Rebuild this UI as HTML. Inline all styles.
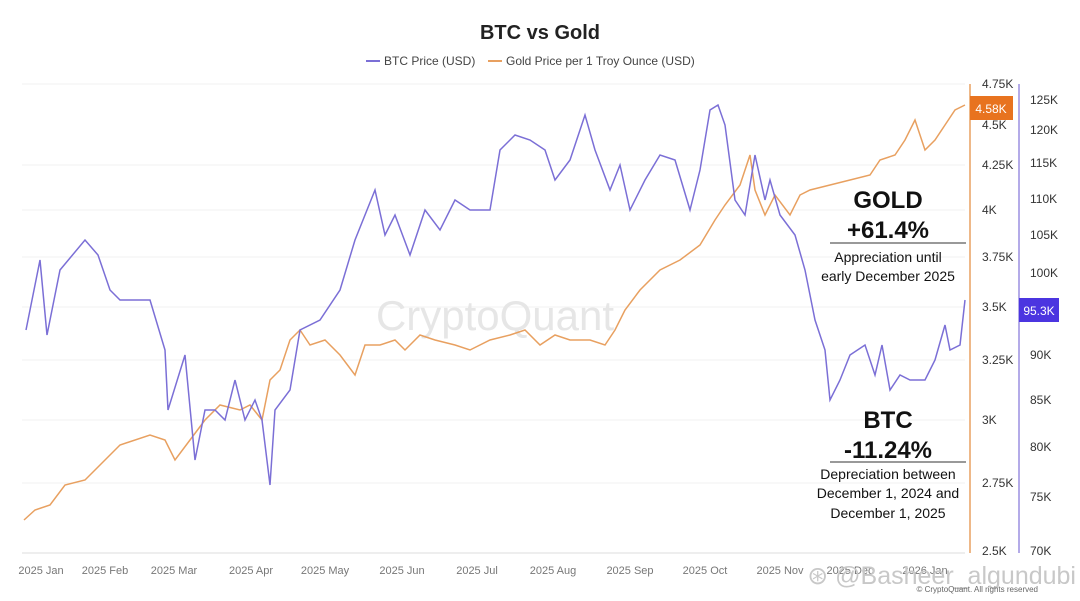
<!DOCTYPE html>
<html><head><meta charset="utf-8"><style>
body{margin:0;background:#fff;}
svg{display:block;font-family:"Liberation Sans",sans-serif;}
</style></head><body>
<svg width="1080" height="601" viewBox="0 0 1080 601">
<rect width="1080" height="601" fill="#fff"/>
<text x="540" y="39" text-anchor="middle" font-size="20" font-weight="bold" fill="#222">BTC vs Gold</text>
<line x1="366" y1="61" x2="380" y2="61" stroke="#7b6fd6" stroke-width="2"/>
<text x="384" y="65" font-size="12" fill="#444">BTC Price (USD)</text>
<line x1="488" y1="61" x2="502" y2="61" stroke="#e8a060" stroke-width="2"/>
<text x="506" y="65" font-size="12" fill="#444">Gold Price per 1 Troy Ounce (USD)</text>
<g stroke="#f2f2f2" stroke-width="1">
<line x1="22" y1="84" x2="965" y2="84"/><line x1="22" y1="165" x2="965" y2="165"/><line x1="22" y1="210" x2="965" y2="210"/><line x1="22" y1="257" x2="965" y2="257"/><line x1="22" y1="307" x2="965" y2="307"/><line x1="22" y1="360" x2="965" y2="360"/><line x1="22" y1="420" x2="965" y2="420"/><line x1="22" y1="483" x2="965" y2="483"/>
</g>
<line x1="22" y1="553" x2="965" y2="553" stroke="#ddd"/>
<text x="495" y="330" text-anchor="middle" font-size="42" fill="#e6e6e6">CryptoQuant</text>
<polyline fill="none" stroke="#e8a060" stroke-width="1.5" points="24,520 35,510 50,505 65,485 85,480 100,465 120,445 150,435 165,440 175,460 190,440 205,420 220,405 240,410 250,405 262,420 270,380 280,370 290,340 300,330 310,345 325,340 340,355 355,375 365,345 380,345 395,340 405,350 420,335 435,340 455,345 470,350 490,340 510,335 525,330 540,345 555,335 570,340 590,340 605,345 615,330 625,310 640,290 660,270 680,260 700,245 715,220 725,205 740,185 750,155 755,190 765,215 775,195 790,215 800,195 810,190 830,185 850,180 870,175 880,160 895,155 905,140 915,120 925,150 935,140 945,125 955,110 965,105"/>
<polyline fill="none" stroke="#7b6fd6" stroke-width="1.5" points="26,330 40,260 47,335 60,270 85,240 98,255 110,290 120,300 150,300 165,350 168,410 185,355 195,460 205,410 215,410 225,420 235,380 245,420 255,400 262,420 270,485 275,410 290,390 300,330 320,320 340,290 355,240 375,190 385,235 395,215 410,255 425,210 440,230 455,200 470,210 490,210 500,150 515,135 530,140 545,150 555,180 570,160 585,115 595,150 610,190 620,165 630,210 645,180 660,155 675,160 690,210 700,170 710,110 718,105 725,125 735,200 745,215 755,155 765,200 770,180 780,215 795,235 805,270 815,320 825,350 830,400 840,380 850,355 865,345 875,375 882,345 890,390 900,375 910,380 925,380 935,360 945,325 950,350 960,345 965,300"/>
<g fill="#111" text-anchor="middle">
<text x="888" y="208" font-size="24" font-weight="bold">GOLD</text>
<text x="888" y="238" font-size="24" font-weight="bold">+61.4%</text>
<text x="888" y="262" font-size="14">Appreciation until</text>
<text x="888" y="281" font-size="14">early December 2025</text>
<text x="888" y="428" font-size="24" font-weight="bold">BTC</text>
<text x="888" y="458" font-size="24" font-weight="bold">-11.24%</text>
<text x="888" y="479" font-size="14">Depreciation between</text>
<text x="888" y="498" font-size="14">December 1, 2024 and</text>
<text x="888" y="518" font-size="14">December 1, 2025</text>
</g>
<line x1="830" y1="243" x2="966" y2="243" stroke="#333"/>
<line x1="830" y1="462" x2="966" y2="462" stroke="#333"/>
<line x1="970" y1="84" x2="970" y2="553" stroke="#e8a060" stroke-width="1.5"/>
<line x1="1019" y1="84" x2="1019" y2="553" stroke="#9c8fe0" stroke-width="1.5"/>
<g font-size="12" fill="#333">
<text x="982" y="88">4.75K</text><text x="982" y="129">4.5K</text><text x="982" y="169">4.25K</text><text x="982" y="214">4K</text><text x="982" y="261">3.75K</text><text x="982" y="311">3.5K</text><text x="982" y="364">3.25K</text><text x="982" y="424">3K</text><text x="982" y="487">2.75K</text><text x="982" y="555">2.5K</text>
<text x="1030" y="104">125K</text><text x="1030" y="134">120K</text><text x="1030" y="167">115K</text><text x="1030" y="203">110K</text><text x="1030" y="239">105K</text><text x="1030" y="277">100K</text><text x="1030" y="359">90K</text><text x="1030" y="404">85K</text><text x="1030" y="451">80K</text><text x="1030" y="501">75K</text><text x="1030" y="555">70K</text>
</g>
<rect x="970" y="96" width="43" height="24" fill="#e8731f"/>
<text x="991" y="113" text-anchor="middle" font-size="12" fill="#fff">4.58K</text>
<rect x="1019" y="298" width="40" height="24" fill="#4b35e0"/>
<text x="1039" y="315" text-anchor="middle" font-size="12" fill="#fff">95.3K</text>
<g font-size="11" fill="#777" text-anchor="middle">
<text x="41" y="574">2025 Jan</text><text x="105" y="574">2025 Feb</text><text x="174" y="574">2025 Mar</text><text x="251" y="574">2025 Apr</text><text x="325" y="574">2025 May</text><text x="402" y="574">2025 Jun</text><text x="477" y="574">2025 Jul</text><text x="553" y="574">2025 Aug</text><text x="630" y="574">2025 Sep</text><text x="705" y="574">2025 Oct</text><text x="780" y="574">2025 Nov</text><text x="850" y="574">2025 Dec</text><text x="925" y="574">2026 Jan</text>
</g>
<text x="1076" y="584" text-anchor="end" font-size="25" fill="#c8c8c8">⊛ @Basheer_algundubi</text>
<text x="1038" y="592" text-anchor="end" font-size="8" fill="#666">© CryptoQuant. All rights reserved</text>
</svg>
</body></html>
